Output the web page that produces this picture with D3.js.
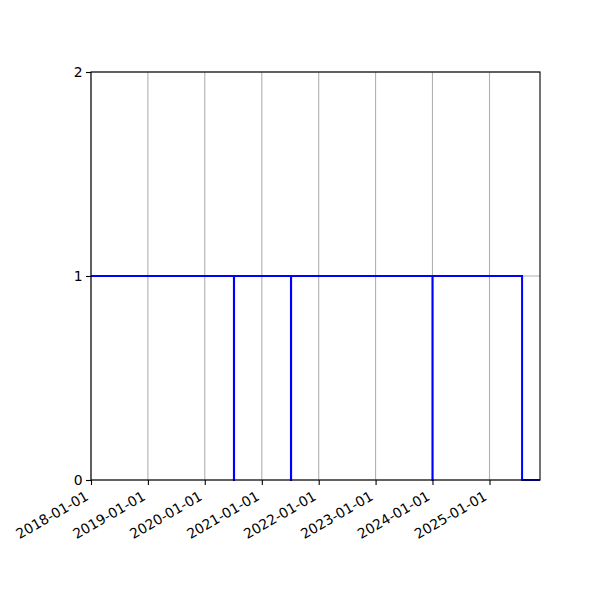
<!DOCTYPE html>
<html>
<head>
<meta charset="utf-8">
<script src="https://cdn.jsdelivr.net/npm/d3@7"></script>
<style>
  body { margin: 0; background: #fff; }
  .tick text { font-family: "DejaVu Sans", sans-serif; font-size: 13.9px; fill: #000; }
</style>
</head>
<body>
<div id="chart"></div>
<script>
// step series: value stays until the next date
const dates = ["2018-01-01", "2020-07-06", "2020-07-07", "2021-07-07", "2021-07-08",
               "2024-01-01", "2024-01-02", "2025-07-29", "2025-11-21"];
const values = [1, 0, 1, 0, 1, 0, 1, 0, 0];
const xTickLabels = ["2018-01-01", "2019-01-01", "2020-01-01", "2021-01-01",
                     "2022-01-01", "2023-01-01", "2024-01-01", "2025-01-01"];
const yTickValues = [0, 1, 2];
const xStart = "2018-01-01", xEnd = "2025-11-21";

let margin = { top: 72, left: 91, right: 60, bottom: 120 },
  width = 600 - margin.left - margin.right,
  height = 600 - margin.top - margin.bottom;

const parse = d3.utcParse("%Y-%m-%d");
const data = dates.map((d, i) => ({ date: parse(d), value: values[i] }));

let svg = d3.select("#chart")
  .append("svg")
  .attr("width", 600)
  .attr("height", 600);

let g = svg.append("g")
  .attr("transform", "translate(" + margin.left + "," + margin.top + ")");

let xScale = d3.scaleUtc()
  .domain([parse(xStart), parse(xEnd)])
  .range([0, width]);

let yScale = d3.scaleLinear()
  .domain([0, 2])
  .range([height, 0]);

// grid lines
g.append("g")
  .selectAll("line")
  .data(xTickLabels.map(parse))
  .enter().append("line")
  .attr("x1", d => xScale(d)).attr("x2", d => xScale(d))
  .attr("y1", 0).attr("y2", height)
  .attr("stroke", "#b0b0b0")
  .attr("stroke-width", 1.1);

g.append("g")
  .selectAll("line")
  .data(yTickValues)
  .enter().append("line")
  .attr("x1", 0).attr("x2", width)
  .attr("y1", d => yScale(d)).attr("y2", d => yScale(d))
  .attr("stroke", "#b0b0b0")
  .attr("stroke-width", 1.1);

// the step line
let line = d3.line()
  .x(d => xScale(d.date))
  .y(d => yScale(d.value))
  .curve(d3.curveStepAfter);

g.append("path")
  .datum(data)
  .attr("fill", "none")
  .attr("stroke", "#0000ff")
  .attr("stroke-width", 2)
  .attr("d", line);

// frame
g.append("rect")
  .attr("width", width)
  .attr("height", height)
  .attr("fill", "none")
  .attr("stroke", "#000")
  .attr("stroke-width", 1.1);

// x axis with rotated labels
let xAxis = g.append("g")
  .attr("transform", "translate(0," + height + ")")
  .call(d3.axisBottom(xScale)
    .tickValues(xTickLabels.map(parse))
    .tickFormat(d3.utcFormat("%Y-%m-%d"))
    .tickSizeInner(5).tickSizeOuter(0));
xAxis.select(".domain").remove();
xAxis.selectAll(".tick line").attr("stroke", "#000").attr("stroke-width", 1.1);
xAxis.selectAll(".tick text")
  .attr("text-anchor", "end")
  .attr("dy", null)
  .attr("y", null)
  .attr("transform", "translate(-2,19) rotate(-30)");

// y axis
let yAxis = g.append("g")
  .call(d3.axisLeft(yScale)
    .tickValues(yTickValues)
    .tickFormat(d3.format("d"))
    .tickSizeInner(5).tickSizeOuter(0)
    .tickPadding(3.5));
yAxis.select(".domain").remove();
yAxis.selectAll(".tick line").attr("stroke", "#000").attr("stroke-width", 1.1);
</script>
</body>
</html>
